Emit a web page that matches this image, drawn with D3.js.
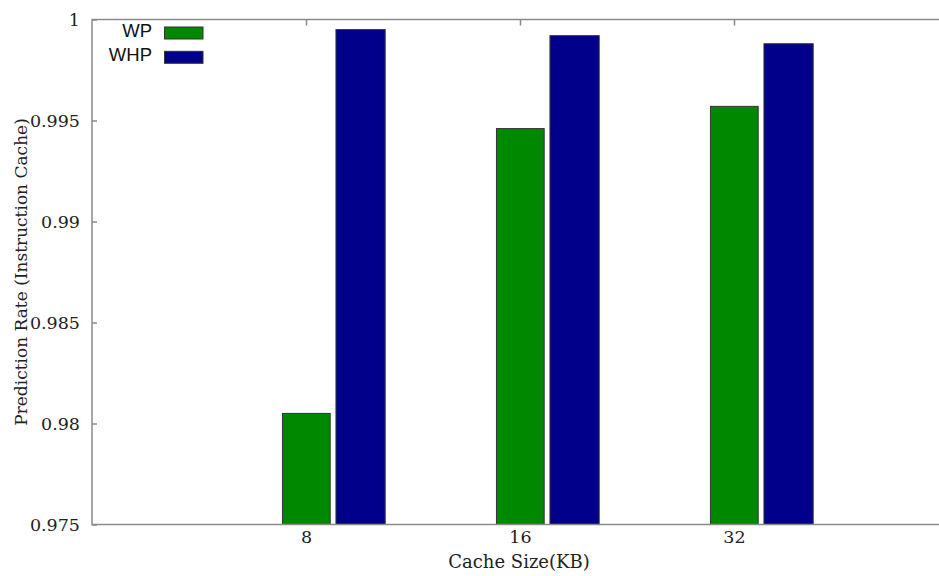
<!DOCTYPE html>
<html>
<head>
<meta charset="utf-8">
<script src="https://cdn.jsdelivr.net/npm/d3@7"></script>
<style>
  html, body { margin: 0; padding: 0; background: #fff; }
  svg { display: block; }
</style>
</head>
<body>
<script>
// Cache sizes on the x axis and the two predictor series
const categories = ["8", "16", "32"];
const seriesNames = ["WP", "WHP"];
const wpValues = [0.9805, 0.9946, 0.9957];
const whpValues = [0.9995, 0.9992, 0.9988];
const yTicks = [0.975, 0.98, 0.985, 0.99, 0.995, 1];
const yTickLabels = ["0.975", "0.98", "0.985", "0.99", "0.995", "1"];
const colors = ["#008800", "#00008b"];

const W = 939, H = 576;
const plotLeft = 92, plotTop = 19.5, plotBottom = 524.5, plotRight = 948;

const svg = d3.select("body").append("svg")
  .attr("width", W).attr("height", H);

// Category index scale: categories sit at 0,1,2 with one unit of padding each side
const x = d3.scaleLinear().domain([-1, 3]).range([plotLeft, plotRight]);
const y = d3.scaleLinear().domain([0.975, 1]).range([plotBottom, plotTop]);

// Bar extents relative to each category position (in category units)
const barSpans = [[-0.11, 0.113], [0.14, 0.37]];
const series = [wpValues, whpValues];

const serif = "'DejaVu Serif', serif";
const sans = "'Liberation Sans', Arial, sans-serif";
const axisColor = "#8a8a8a";

// Bars
series.forEach((vals, s) => {
  svg.append("g").selectAll("rect")
    .data(vals)
    .join("rect")
    .attr("x", (d, i) => x(i + barSpans[s][0]))
    .attr("width", (d, i) => x(i + barSpans[s][1]) - x(i + barSpans[s][0]))
    .attr("y", d => y(d))
    .attr("height", d => y(0.975) - y(d))
    .attr("fill", colors[s])
    .attr("stroke", "#333")
    .attr("stroke-width", 1);
});

// Y axis: inward ticks on the left border
const yAxis = d3.axisLeft(y)
  .tickValues(yTicks)
  .tickFormat((d, i) => yTickLabels[i])
  .tickSizeInner(-5)
  .tickSizeOuter(0)
  .tickPadding(12);
const gy = svg.append("g").attr("transform", `translate(${plotLeft},0)`).call(yAxis);
gy.select(".domain").remove();
gy.selectAll(".tick line").attr("stroke", axisColor).attr("stroke-width", 1.5);
gy.selectAll(".tick text")
  .attr("font-family", serif).attr("font-size", 17.5).attr("fill", "#222");

// X axis tick labels along the bottom
const xAxis = d3.axisBottom(x)
  .tickValues(categories.map((c, i) => i))
  .tickFormat((d) => categories[d])
  .tickSize(0)
  .tickPadding(6);
const gx = svg.append("g").attr("transform", `translate(0,${plotBottom})`).call(xAxis);
gx.select(".domain").remove();
gx.selectAll(".tick text")
  .attr("font-family", serif).attr("font-size", 17.5).attr("fill", "#222");

// Inward tick marks along the top border
const xTop = d3.axisTop(x)
  .tickValues(categories.map((c, i) => i))
  .tickFormat("")
  .tickSizeInner(-6)
  .tickSizeOuter(0);
const gxt = svg.append("g").attr("transform", `translate(0,${plotTop})`).call(xTop);
gxt.select(".domain").remove();
gxt.selectAll(".tick line").attr("stroke", axisColor).attr("stroke-width", 1.5);

// Plot border: top, left, bottom
svg.append("path")
  .attr("d", `M${plotRight},${plotTop}H${plotLeft}V${plotBottom}H${plotRight}`)
  .attr("fill", "none")
  .attr("stroke", axisColor)
  .attr("stroke-width", 1.5);

// Axis titles
svg.append("text")
  .attr("x", 519).attr("y", 568)
  .attr("text-anchor", "middle")
  .attr("font-family", serif).attr("font-size", 18).attr("fill", "#222")
  .text("Cache Size(KB)");

svg.append("text")
  .attr("transform", `translate(27,${(plotTop + plotBottom) / 2}) rotate(-90)`)
  .attr("text-anchor", "middle")
  .attr("font-family", serif).attr("font-size", 17).attr("fill", "#222")
  .text("Prediction Rate (Instruction Cache)");

// Legend
const legend = svg.append("g");
seriesNames.forEach((name, s) => {
  const yy = 27 + s * 24.3;
  legend.append("text")
    .attr("x", 152).attr("y", yy + 9.5)
    .attr("text-anchor", "end")
    .attr("font-family", sans).attr("font-size", 18.5).attr("fill", "#111")
    .text(name);
  legend.append("rect")
    .attr("x", 164.5).attr("y", yy)
    .attr("width", 38.5).attr("height", 12)
    .attr("fill", colors[s])
    .attr("stroke", "#333").attr("stroke-width", 1);
});
</script>
</body>
</html>
